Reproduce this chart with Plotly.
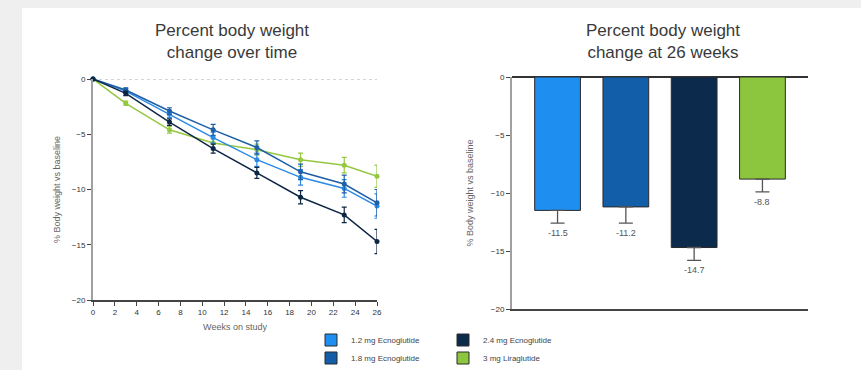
import plotly.graph_objects as go

W, H = 861, 370

weeks = [0, 3, 7, 11, 15, 19, 23, 26]
series_names = ["1.2 mg Ecnoglutide", "1.8 mg Ecnoglutide", "2.4 mg Ecnoglutide", "3 mg Liraglutide"]
colors_line = ["#2b8ae6", "#1f5fa6", "#0d2645", "#94c83f"]
colors_bar = ["#1e8ff0", "#135ea9", "#0b2a4c", "#8cc63e"]

change_12 = [0, -1.1, -3.2, -5.3, -7.3, -8.9, -9.9, -11.5]
change_18 = [0, -1.0, -2.9, -4.6, -6.2, -8.4, -9.5, -11.2]
change_24 = [0, -1.3, -3.9, -6.3, -8.5, -10.7, -12.3, -14.7]
change_lira = [0, -2.2, -4.6, -5.8, -6.4, -7.3, -7.8, -8.8]
err_12 = [0, 0.2, 0.3, 0.5, 0.6, 0.7, 0.8, 1.1]
err_18 = [0, 0.2, 0.3, 0.5, 0.6, 0.7, 0.8, 1.2]
err_24 = [0, 0.2, 0.3, 0.4, 0.5, 0.6, 0.7, 1.1]
err_lira = [0, 0.2, 0.3, 0.4, 0.5, 0.6, 0.7, 1.0]

bar_values = [-11.5, -11.2, -14.7, -8.8]
bar_errors = [1.1, 1.4, 1.1, 1.1]
bar_labels = ["-11.5", "-11.2", "-14.7", "-8.8"]

line_series = [change_12, change_18, change_24, change_lira]
line_errors = [err_12, err_18, err_24, err_lira]

fig = go.Figure()

for i in [3, 0, 1, 2]:
    fig.add_trace(go.Scatter(
        x=weeks, y=line_series[i], mode="lines+markers",
        line=dict(color=colors_line[i], width=1.5),
        marker=dict(color=colors_line[i], size=5),
        error_y=dict(type="data", array=line_errors[i], color=colors_line[i], thickness=1.2, width=2.5),
        showlegend=False, xaxis="x", yaxis="y", cliponaxis=False, hoverinfo="skip",
    ))

legend_map = ["legend", "legend2", "legend", "legend2"]
for i in range(4):
    fig.add_trace(go.Bar(
        x=[series_names[i]], y=[bar_values[i]], name=series_names[i],
        marker=dict(color=colors_bar[i], line=dict(color="#2a2a2a", width=1)),
        width=0.67,
        error_y=dict(type="data", symmetric=False, array=[0], arrayminus=[bar_errors[i]],
                     color="#555555", thickness=1.3, width=7),
        xaxis="x2", yaxis="y2", legend=legend_map[i], showlegend=True,
    ))

label_annotations = [
    dict(x=name, y=v - e, xref="x2", yref="y2", text=lbl, showarrow=False,
         xanchor="center", yanchor="top", yshift=-3,
         font=dict(size=9, color="#555555", family="Liberation Sans"))
    for name, v, e, lbl in zip(series_names, bar_values, bar_errors, bar_labels)
]

tickfont = dict(size=8, color="#333333", family="Liberation Sans")
titlefont = dict(size=9, color="#666666", family="Liberation Sans")

fig.update_layout(
    width=W, height=H,
    margin=dict(l=0, r=0, t=0, b=0, autoexpand=False),
    paper_bgcolor="#efefef",
    plot_bgcolor="rgba(0,0,0,0)",
    barmode="overlay",
    font=dict(family="Liberation Sans", color="#444444"),
    xaxis=dict(domain=[93 / W, 377 / W], range=[0, 26], tickmode="array",
               tickvals=list(range(0, 27, 2)), tickfont=tickfont,
               showline=True, linecolor="#444444", linewidth=1.5,
               ticks="outside", ticklen=4, tickcolor="#444444",
               showgrid=False, zeroline=False, automargin=False,
               title=dict(text="Weeks on study", font=titlefont, standoff=7),
               anchor="y"),
    yaxis=dict(domain=[1 - 300 / H, 1 - 79 / H], range=[-20, 0],
               tickvals=[0, -5, -10, -15, -20], tickfont=tickfont,
               showline=True, linecolor="#a0a0a0", linewidth=2,
               ticks="outside", ticklen=4, tickcolor="#444444",
               showgrid=False, zeroline=False, automargin=False,
               title=dict(text="% Body weight vs baseline", font=titlefont, standoff=10),
               anchor="x"),
    xaxis2=dict(domain=[512 / W, 808 / W], range=[-0.667, 3.667], type="category",
                categoryorder="array", categoryarray=series_names,
                showticklabels=False, showline=True, linecolor="#444444", linewidth=1.5,
                ticks="", showgrid=False, zeroline=False, automargin=False, anchor="y2"),
    yaxis2=dict(domain=[1 - 309 / H, 1 - 77 / H], range=[-20, 0],
                tickvals=[0, -5, -10, -15, -20], tickfont=tickfont,
                showline=True, linecolor="#a0a0a0", linewidth=2,
                ticks="outside", ticklen=4, tickcolor="#444444",
                showgrid=False, zeroline=True, zerolinecolor="#333333", zerolinewidth=1.5,
                automargin=False,
                title=dict(text="% Body weight vs baseline", font=titlefont, standoff=16),
                anchor="x2"),
    legend=dict(orientation="h", x=311 / W, y=1 - 340 / H, xanchor="left", yanchor="middle",
                font=dict(size=8, color="#444444"), entrywidth=87, entrywidthmode="pixels",
                bgcolor="rgba(0,0,0,0)", itemwidth=30, tracegroupgap=0),
    legend2=dict(orientation="h", x=311 / W, y=1 - 358 / H, xanchor="left", yanchor="middle",
                 font=dict(size=8, color="#444444"), entrywidth=87, entrywidthmode="pixels",
                 bgcolor="rgba(0,0,0,0)", itemwidth=30, tracegroupgap=0),
    shapes=[
        dict(type="rect", xref="paper", yref="paper", x0=22 / W, x1=1, y0=0, y1=1 - 8 / H,
             fillcolor="white", line=dict(width=0), layer="below"),
        dict(type="line", xref="x domain", yref="y", x0=0, x1=1, y0=0, y1=0,
             line=dict(color="#aaaaaa", width=1, dash="dot"), layer="below"),
    ],
    annotations=[
        dict(text="Percent body weight<br>change over time", x=232 / W, y=1 - 42 / H,
             xref="paper", yref="paper", showarrow=False, xanchor="center", yanchor="middle",
             font=dict(size=17, color="#3a3a3a", family="Liberation Sans")),
        dict(text="Percent body weight<br>change at 26 weeks", x=663 / W, y=1 - 42 / H,
             xref="paper", yref="paper", showarrow=False, xanchor="center", yanchor="middle",
             font=dict(size=17, color="#3a3a3a", family="Liberation Sans")),
    ] + label_annotations,
)

post = """
document.documentElement.style.margin='0px';
document.body.style.margin='0px';
document.documentElement.style.overflow='hidden';
document.body.style.overflow='hidden';
"""
fig.write_html("out.html", post_script=post, config={"displayModeBar": False})
